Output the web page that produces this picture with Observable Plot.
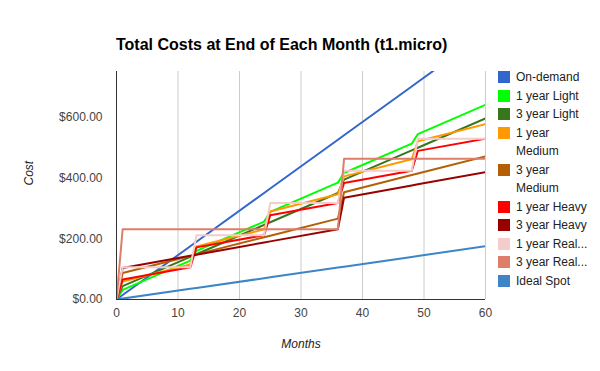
<!DOCTYPE html>
<html>
<head>
<meta charset="utf-8">
<script src="https://cdn.jsdelivr.net/npm/d3@7"></script>
<script src="https://cdn.jsdelivr.net/npm/@observablehq/plot@0.6"></script>
<style>
  body { margin: 0; background: #fff; }
  #wrap { position: relative; width: 600px; height: 371px; font-family: Arial, "Liberation Sans", sans-serif; overflow: hidden; }
  #title { position: absolute; left: 116px; top: 37px; font-size: 16px; font-weight: bold; line-height: 16px; color: #000; white-space: nowrap; }
  #legend { position: absolute; left: 498px; top: 68px; font-size: 12px; line-height: 18.5px; color: #222; }
  .item { display: flex; align-items: flex-start; }
  .sw { width: 12px; height: 12px; margin-top: 3px; margin-right: 6px; flex: none; }
  .lab { width: 75px; }
  #wrap svg { position: absolute; left: 0; top: 0; }
</style>
</head>
<body>
<div id="wrap">
  <div id="title">Total Costs at End of Each Month (t1.micro)</div>
  <div id="legend"></div>
</div>
<script>
// Breakpoint months (end of month) where each series changes slope or steps
const months = [0, 1, 12, 13, 24, 25, 36, 37, 48, 49, 60];

const seriesNames = ["On-demand", "1 year Light", "3 year Light", "1 year Medium", "3 year Medium",
  "1 year Heavy", "3 year Heavy", "1 year Real...", "3 year Real...", "Ideal Spot"];
const seriesColors = ["#3366cc", "#00ff00", "#38761d", "#ff9900", "#b45f06",
  "#ff0000", "#990000", "#f4cccc", "#dd7e6b", "#3d85c6"];

const onDemand     = [0, 14.6, 175.2, 189.8, 350.4, 365, 525.6, 540.2, 700.8, 715.4, 876];
const light1       = [0, 31.76, 128.12, 159.88, 256.24, 288, 384.36, 416.12, 512.48, 544.24, 640.6];
const light3       = [0, 43.76, 140.12, 148.88, 245.24, 254, 350.36, 394.12, 490.48, 499.24, 595.6];
const medium1      = [0, 59.11, 115.32, 174.43, 230.64, 289.75, 345.96, 405.07, 461.28, 520.39, 576.6];
const medium3      = [0, 87.11, 143.32, 148.43, 204.64, 209.75, 265.96, 353.07, 409.28, 414.39, 470.6];
const heavy1       = [0, 65.65, 105.8, 171.45, 211.6, 277.25, 317.4, 383.05, 423.2, 488.85, 529];
const heavy3       = [0, 103.65, 143.8, 147.45, 187.6, 191.25, 231.4, 335.05, 375.2, 378.85, 419];
const real1        = [0, 105.8, 105.8, 211.6, 211.6, 317.4, 317.4, 423.2, 423.2, 529, 529];
const real3        = [0, 231.4, 231.4, 231.4, 231.4, 231.4, 231.4, 462.8, 462.8, 462.8, 462.8];
const idealSpot    = [0, 2.92, 35.04, 37.96, 70.08, 73, 105.12, 108.04, 140.16, 143.08, 175.2];

const xTicks = [0, 10, 20, 30, 40, 50, 60];
const yTicks = [0, 200, 400, 600];

const allSeries = [onDemand, light1, light3, medium1, medium3, heavy1, heavy3, real1, real3, idealSpot];
const rows = [];
allSeries.forEach((vals, i) => {
  vals.forEach((v, j) => rows.push({series: seriesNames[i], month: months[j], cost: v}));
});

const chart = Plot.plot({
  width: 600,
  height: 371,
  marginLeft: 116,
  marginRight: 115,
  marginTop: 71,
  marginBottom: 72,
  style: {fontFamily: "Arial, 'Liberation Sans', sans-serif", fontSize: "12px", color: "#444", background: "transparent"},
  x: {domain: [0, 60]},
  y: {domain: [0, 750]},
  color: {domain: seriesNames, range: seriesColors},
  marks: [
    Plot.gridX(xTicks.filter(d => d > 0), {stroke: "#cccccc", strokeOpacity: 1}),
    Plot.axisX({ticks: xTicks, tickSize: 0, tickPadding: 9, label: null}),
    Plot.axisY({ticks: yTicks, tickSize: 0, tickPadding: 14, tickFormat: d3.format("$.2f"), label: null}),
    Plot.line(rows, {x: "month", y: "cost", z: "series", stroke: "series", strokeWidth: 2, clip: true}),
    Plot.ruleY([0], {stroke: "#333"}),
    Plot.ruleX([0], {stroke: "#333"}),
    Plot.text(["Months"], {frameAnchor: "bottom", dy: 45, lineAnchor: "middle", fontStyle: "italic", fill: "#222", fontSize: 12}),
    Plot.text(["Cost"], {frameAnchor: "left", dx: -87, rotate: -90, lineAnchor: "middle", fontStyle: "italic", fill: "#222", fontSize: 12})
  ]
});
document.getElementById("wrap").prepend(chart);

const legend = document.getElementById("legend");
seriesNames.forEach((name, i) => {
  const item = document.createElement("div");
  item.className = "item";
  const sw = document.createElement("div");
  sw.className = "sw";
  sw.style.background = seriesColors[i];
  const lab = document.createElement("div");
  lab.className = "lab";
  lab.textContent = name;
  item.appendChild(sw);
  item.appendChild(lab);
  legend.appendChild(item);
});
</script>
</body>
</html>
